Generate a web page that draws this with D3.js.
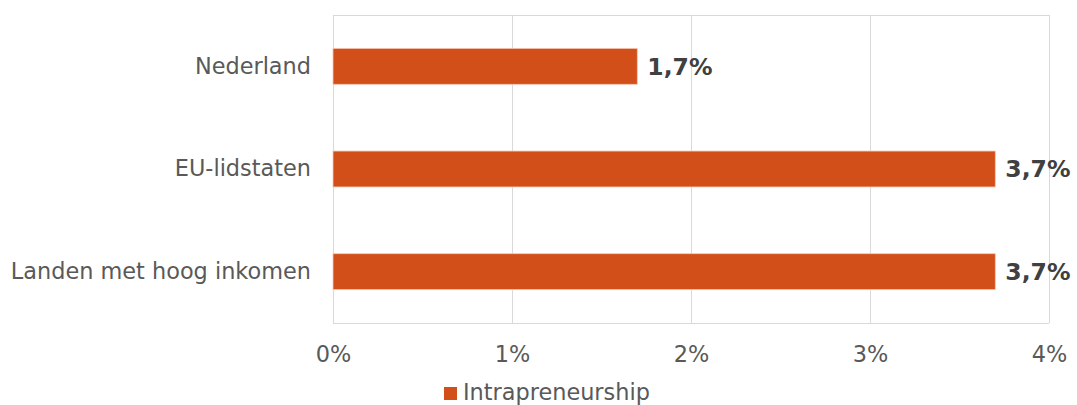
<!DOCTYPE html>
<html>
<head>
<meta charset="utf-8">
<script src="https://cdn.jsdelivr.net/npm/d3@7"></script>
<style>
  html, body { margin: 0; padding: 0; background: #fff; }
  svg { display: block; font-family: "DejaVu Sans", Verdana, sans-serif; }
</style>
</head>
<body>
<svg id="chart" width="1077" height="405"></svg>
<script>
const categories = ["Nederland", "EU-lidstaten", "Landen met hoog inkomen"];
const values = [1.7, 3.7, 3.7];
const xTicks = [0, 1, 2, 3, 4];
const seriesName = "Intrapreneurship";

const svg = d3.select("#chart");
const margin = { left: 333, right: 1077 - 1049, top: 15, bottom: 405 - 323 };
const W = 1077, H = 405;

const x = d3.scaleLinear().domain([0, 4]).range([margin.left, W - margin.right]);
const y = d3.scaleBand().domain(categories).range([margin.top, H - margin.bottom])
  .paddingInner(0.65).paddingOuter(0.325);

// plot border + gridlines
const grid = svg.append("g");
grid.selectAll("line.v").data(xTicks).join("line")
  .attr("x1", d => x(d)).attr("x2", d => x(d))
  .attr("y1", margin.top).attr("y2", H - margin.bottom)
  .attr("stroke", "#d9d9d9").attr("stroke-width", 1).attr("shape-rendering", "crispEdges");
grid.append("line").attr("x1", x(0)).attr("x2", x(4)).attr("y1", margin.top).attr("y2", margin.top)
  .attr("stroke", "#d9d9d9").attr("shape-rendering", "crispEdges");
grid.append("line").attr("x1", x(0)).attr("x2", x(4)).attr("y1", H - margin.bottom).attr("y2", H - margin.bottom)
  .attr("stroke", "#d9d9d9").attr("shape-rendering", "crispEdges");

// bars
svg.append("g").selectAll("rect").data(categories).join("rect")
  .attr("x", x(0))
  .attr("y", d => y(d))
  .attr("width", (d, i) => x(values[i]) - x(0))
  .attr("height", y.bandwidth())
  .attr("fill", "#d34f1a")
  .attr("stroke", "#f6c8b4").attr("stroke-width", 0.8);

// value labels
svg.append("g").selectAll("text").data(categories).join("text")
  .attr("x", (d, i) => x(values[i]) + 10)
  .attr("y", d => y(d) + y.bandwidth() / 2)
  .attr("dy", "0.36em")
  .attr("font-size", 23.5).attr("font-weight", "bold").attr("fill", "#404040")
  .text((d, i) => d3.format(".1f")(values[i]).replace(".", ",") + "%");

// category axis labels
const yAxis = d3.axisLeft(y).tickSize(0).tickPadding(22);
const yg = svg.append("g").attr("transform", `translate(${x(0)},0)`).call(yAxis);
yg.select(".domain").remove();
yg.selectAll("text").attr("font-size", 22.4).attr("fill", "#595959")
  .attr("font-family", "DejaVu Sans, Verdana, sans-serif");

// x axis
const xAxis = d3.axisBottom(x).tickValues(xTicks).tickSize(0).tickPadding(23)
  .tickFormat(d => d + "%");
const xg = svg.append("g").attr("transform", `translate(0,${H - margin.bottom})`).call(xAxis);
xg.select(".domain").remove();
xg.selectAll("text").attr("font-size", 22.4).attr("fill", "#595959")
  .attr("font-family", "DejaVu Sans, Verdana, sans-serif");

// legend
const lg = svg.append("g").attr("transform", "translate(444,387)");
lg.append("rect").attr("width", 13).attr("height", 13).attr("fill", "#d34f1a");
lg.append("text").attr("x", 19).attr("y", 13).attr("font-size", 22.4).attr("fill", "#595959")
  .text(seriesName);
</script>
</body>
</html>
